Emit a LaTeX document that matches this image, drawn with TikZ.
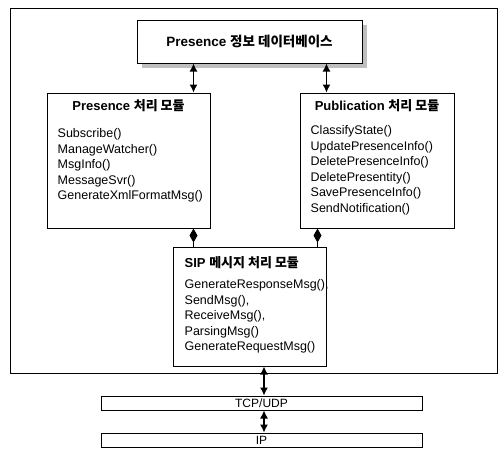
\documentclass[tikz,border=0pt]{standalone}
\usepackage{fontspec}
\setmainfont{Liberation Sans}
\newfontfamily\kr{Noto Sans CJK KR}
\usetikzlibrary{arrows.meta,shadows}
\tikzset{
  frame/.style={draw, line width=0.8pt},
  mbox/.style={draw, rectangle, line width=1pt, inner sep=0pt, fill=white},
  layer/.style={mbox, minimum width=321pt, minimum height=14pt, font=\fontsize{12}{13}\selectfont},
  ttl/.style={font=\fontsize{13}{15}\selectfont\bfseries, inner sep=0pt},
  lst/.style={align=left, font=\fontsize{12.5}{15.5}\selectfont, inner sep=0pt, anchor=north west},
  arr/.style={{Latex[length=8pt,width=8pt]}-{Latex[length=8pt,width=8pt]}, line width=1.2pt},
  dia/.style={{Diamond[length=14pt,width=8pt]}-, line width=1.2pt}
}

\begin{document}
\begin{tikzpicture}[x=1pt, y=-1pt]
\useasboundingbox (0,0) rectangle (498,456);
\draw[frame] (10,8) rectangle (497,373);
% modules
\node[mbox, minimum width=225pt, minimum height=43pt,
      drop shadow={shadow xshift=5pt, shadow yshift=-5pt, fill=gray!50, opacity=1}] (db) at (249.5,41.5) {};
\node[ttl, font=\fontsize{13.5}{15}\selectfont\bfseries] (dbT) at (db) {Presence {\kr 정보 데이터베이스}};
\node[mbox, minimum width=163pt, minimum height=135pt] (pres) at (128.5,160.5) {};
\node[mbox, minimum width=154pt, minimum height=135pt] (pub) at (377,160.5) {};
\node[mbox, minimum width=153pt, minimum height=119pt] (sip) at (249.5,306.5) {};
\node[ttl] (presT) at ([yshift=-13pt]pres.north) {Presence {\kr 처리 모듈}};
\node[ttl] (pubT) at ([yshift=-13pt]pub.north) {Publication {\kr 처리 모듈}};
\node[ttl, anchor=west] (sipT) at ([xshift=12pt, yshift=-16pt]sip.north west) {SIP {\kr 메시지 처리 모듈}};
\node[lst] (presL) at ([xshift=11pt, yshift=-36pt]pres.north west)
  {Subscribe()\\ManageWatcher()\\MsgInfo()\\MessageSvr()\\GenerateXmlFormatMsg()};
\node[lst] (pubL) at ([xshift=11pt, yshift=-33pt]pub.north west)
  {ClassifyState()\\UpdatePresenceInfo()\\DeletePresenceInfo()\\DeletePresentity()\\SavePresenceInfo()\\SendNotification()};
\node[lst] (sipL) at ([xshift=12pt, yshift=-33pt]sip.north west)
  {GenerateResponseMsg(),\\SendMsg(),\\ReceiveMsg(),\\ParsingMsg()\\GenerateRequestMsg()};
% layers
\node[layer] (tcp) at (261.5,403) {TCP/UDP};
\node[layer] (ip) at (261.5,440) {IP};
% connectors
\draw[arr] ([xshift=-17pt]pres.north east) -- ([xshift=-17pt]pres.north east |- db.south);
\draw[arr] ([xshift=27pt]pub.north west) -- ([xshift=27pt]pub.north west |- db.south);
\draw[dia] ([xshift=-17pt]pres.south east) -- ([xshift=-17pt]pres.south east |- sip.north);
\draw[dia] ([xshift=18pt]pub.south west) -- ([xshift=18pt]pub.south west |- sip.north);
\draw[arr] ([xshift=14.5pt]sip.south) -- ([xshift=14.5pt]sip.south |- tcp.north);
\draw[arr] ([xshift=2.5pt]tcp.south) -- ([xshift=2.5pt]ip.north);
\end{tikzpicture}
\end{document}
